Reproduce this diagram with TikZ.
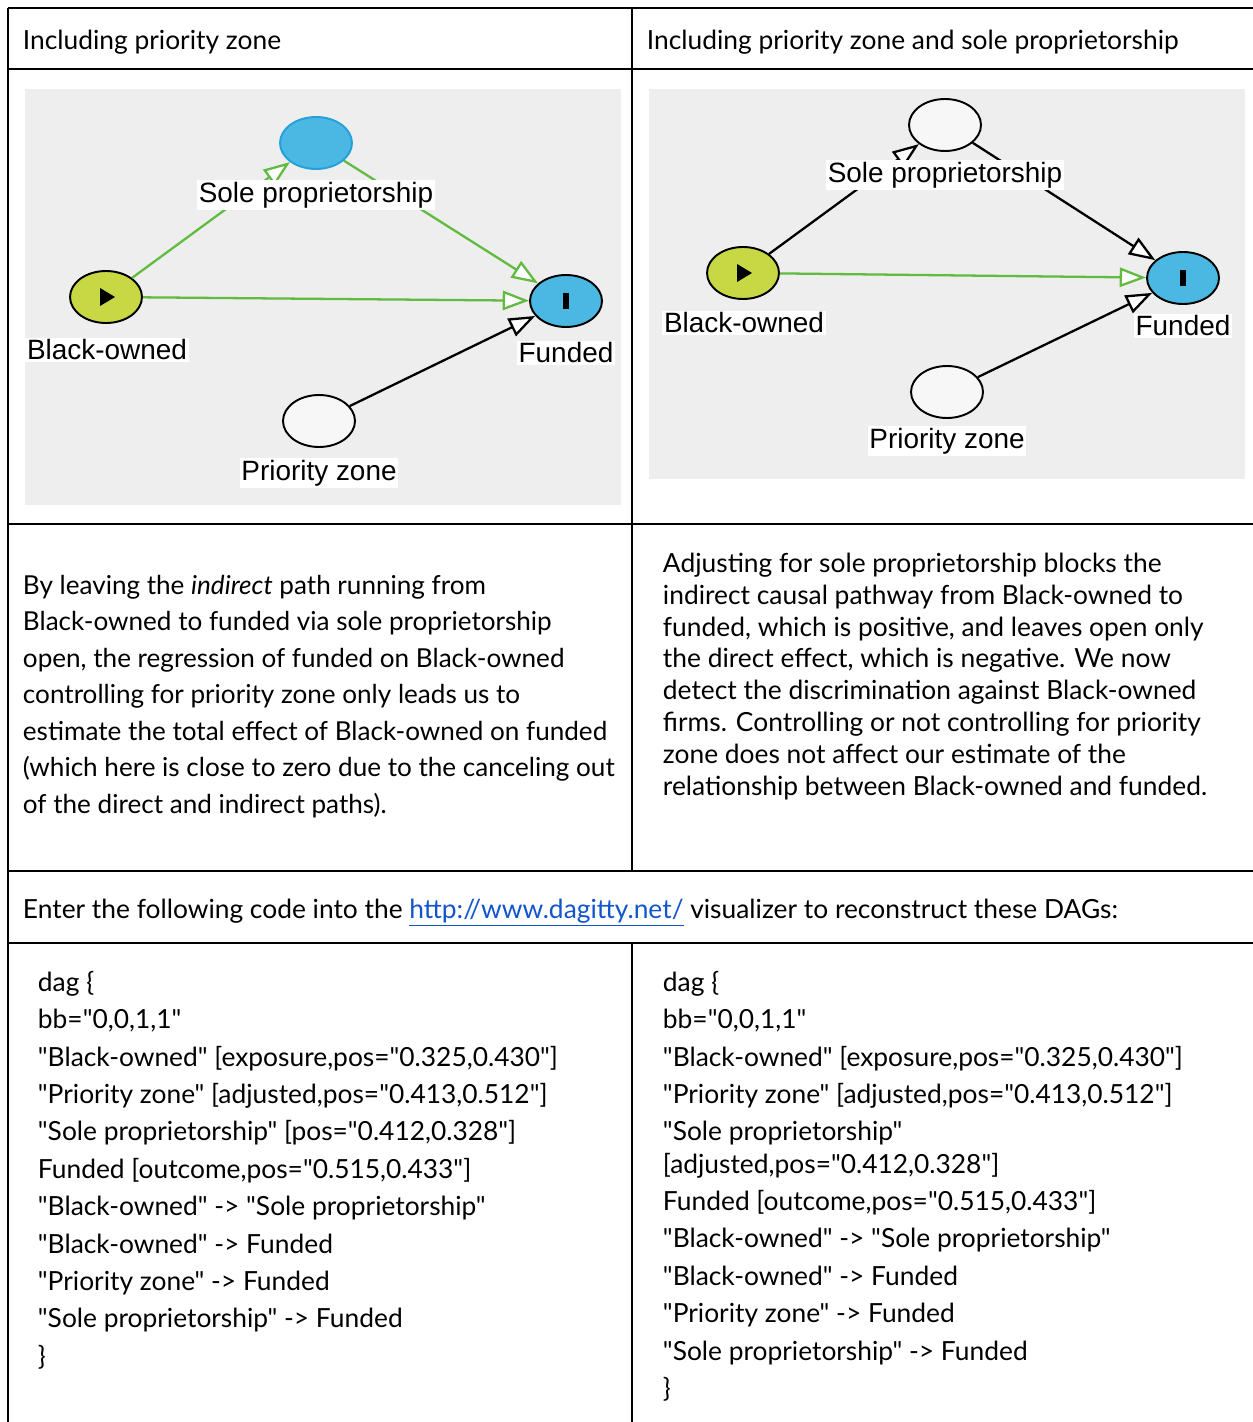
\documentclass[tikz,border=0pt]{standalone}
\usepackage{fontspec}
\setmainfont{Lato}[Ligatures=TeXOff]
\newfontfamily\dagfont{Liberation Sans}
\usetikzlibrary{arrows.meta,shapes.geometric}
\definecolor{dagblue}{RGB}{74,184,227}
\definecolor{dagblueline}{RGB}{38,160,216}
\definecolor{exposegreen}{RGB}{200,215,68}
\definecolor{pathgreen}{RGB}{96,187,64}
\definecolor{panelgray}{RGB}{238,238,238}
\definecolor{linkblue}{RGB}{17,85,204}

\begin{document}
\begin{tikzpicture}[x=0.02cm,y=-0.02cm,>={Triangle[open,fill=white,length=15pt,width=11pt]},
  line width=1.1pt,
  var node/.style={ellipse,draw=black,minimum width=1.44cm,minimum height=1.04cm,inner sep=0pt,fill=white!97!black},
  exposure node/.style={var node,fill=exposegreen},
  outcome node/.style={var node,fill=dagblue},
  path node/.style={var node,fill=dagblue,draw=dagblueline},
  var label/.style={fill=white,inner sep=1pt,font=\dagfont\fontsize{15.9}{16}\selectfont},
  cell text/.style={anchor=north west,inner sep=0pt,align=left,font=\fontsize{15}{21.3}\selectfont}]

  \useasboundingbox (0,0) rectangle (1253,1422);

  \draw (8,8) -- (1253,8);
  \draw (8,69) -- (1253,69);
  \draw (8,524) -- (1253,524);
  \draw (8,871) -- (1253,871);
  \draw (8,943) -- (1253,943);
  \draw (8,8) -- (8,1422);
  \draw (632,8) -- (632,871);
  \draw (632,943) -- (632,1422);

  \fill[panelgray] (25,89) rectangle (621,505);
  \fill[panelgray] (649,89) rectangle (1245,479);

  \node[path node] (sp1) at (316,143) {};
  \node[exposure node] (bo1) at (106,297) {};
  \node[outcome node] (fu1) at (566,301) {};
  \node[var node] (pz1) at (319,421) {};

  \node[var node] (sp2) at (945,125) {};
  \node[exposure node] (bo2) at (743,273) {};
  \node[outcome node] (fu2) at (1183,278) {};
  \node[var node] (pz2) at (947,392) {};

  \fill[shift={(bo1)}] (-6,-9) -- (9,0) -- (-6,9) -- cycle;
  \fill[shift={(fu1)}] (-3,-8) rectangle (3,8);
  \fill[shift={(bo2)}] (-6,-9) -- (9,0) -- (-6,9) -- cycle;
  \fill[shift={(fu2)}] (-3,-8) rectangle (3,8);

  \path[->,line width=1.3pt]
    (bo1) edge[pathgreen] (sp1)
    (sp1) edge[pathgreen] (fu1)
    (bo1) edge[pathgreen] (fu1)
    (pz1) edge (fu1)
    (bo2) edge (sp2)
    (sp2) edge (fu2)
    (bo2) edge[pathgreen] (fu2)
    (pz2) edge (fu2)
    ;

  \node[var label] (sp1l) at (316,195) {Sole proprietorship};
  \node[var label] (bo1l) at (107,350) {Black-owned};
  \node[var label] (fu1l) at (566,353) {Funded};
  \node[var label] (pz1l) at (319,473) {Priority zone};
  \node[var label] (sp2l) at (945,175) {Sole proprietorship};
  \node[var label] (bo2l) at (744,323) {Black-owned};
  \node[var label] (fu2l) at (1183,326) {Funded};
  \node[var label] (pz2l) at (947,441) {Priority zone};

  \node[cell text,anchor=west] (head1) at (22,42) {Including priority zone};
  \node[cell text,anchor=west] (head2) at (646,42) {Including priority zone and sole proprietorship};

  \node[cell text,font=\fontsize{14.85}{20.79}\selectfont] (note1) at (22,574) {By leaving the \textit{indirect} path running from\\
    Black-owned to funded via sole proprietorship\\
    open, the regression of funded on Black-owned\\
    controlling for priority zone only leads us to\\
    estimate the total effect of Black-owned on funded\\
    (which here is close to zero due to the canceling out\\
    of the direct and indirect paths).};
  \node[cell text,font=\fontsize{15}{18.14}\selectfont] (note2) at (662,552) {Adjusting for sole proprietorship blocks the\\
    indirect causal pathway from Black-owned to\\
    funded, which is positive, and leaves open only\\
    the direct effect, which is negative. We now\\
    detect the discrimination against Black-owned\\
    firms. Controlling or not controlling for priority\\
    zone does not affect our estimate of the\\
    relationship between Black-owned and funded.};

  \node[cell text,anchor=west] (enter) at (22,913) {Enter the following code into the \textcolor{linkblue}{\underline{http://www.dagitty.net/}} visualizer to reconstruct these DAGs:};

  \node[cell text] (code1) at (37,970) {dag \{\\
    bb="0,0,1,1"\\
    "Black-owned" [exposure,pos="0.325,0.430"]\\
    "Priority zone" [adjusted,pos="0.413,0.512"]\\
    "Sole proprietorship" [pos="0.412,0.328"]\\
    Funded [outcome,pos="0.515,0.433"]\\
    "Black-owned" -> "Sole proprietorship"\\
    "Black-owned" -> Funded\\
    "Priority zone" -> Funded\\
    "Sole proprietorship" -> Funded\\
    \}};
  \node[cell text] (code2) at (662,970) {dag \{\\
    bb="0,0,1,1"\\
    "Black-owned" [exposure,pos="0.325,0.430"]\\
    "Priority zone" [adjusted,pos="0.413,0.512"]\\
    "Sole proprietorship"\\[-3pt]
    {[}adjusted,pos="0.412,0.328"]\\
    Funded [outcome,pos="0.515,0.433"]\\
    "Black-owned" -> "Sole proprietorship"\\
    "Black-owned" -> Funded\\
    "Priority zone" -> Funded\\
    "Sole proprietorship" -> Funded\\
    \}};
\end{tikzpicture}
\end{document}
